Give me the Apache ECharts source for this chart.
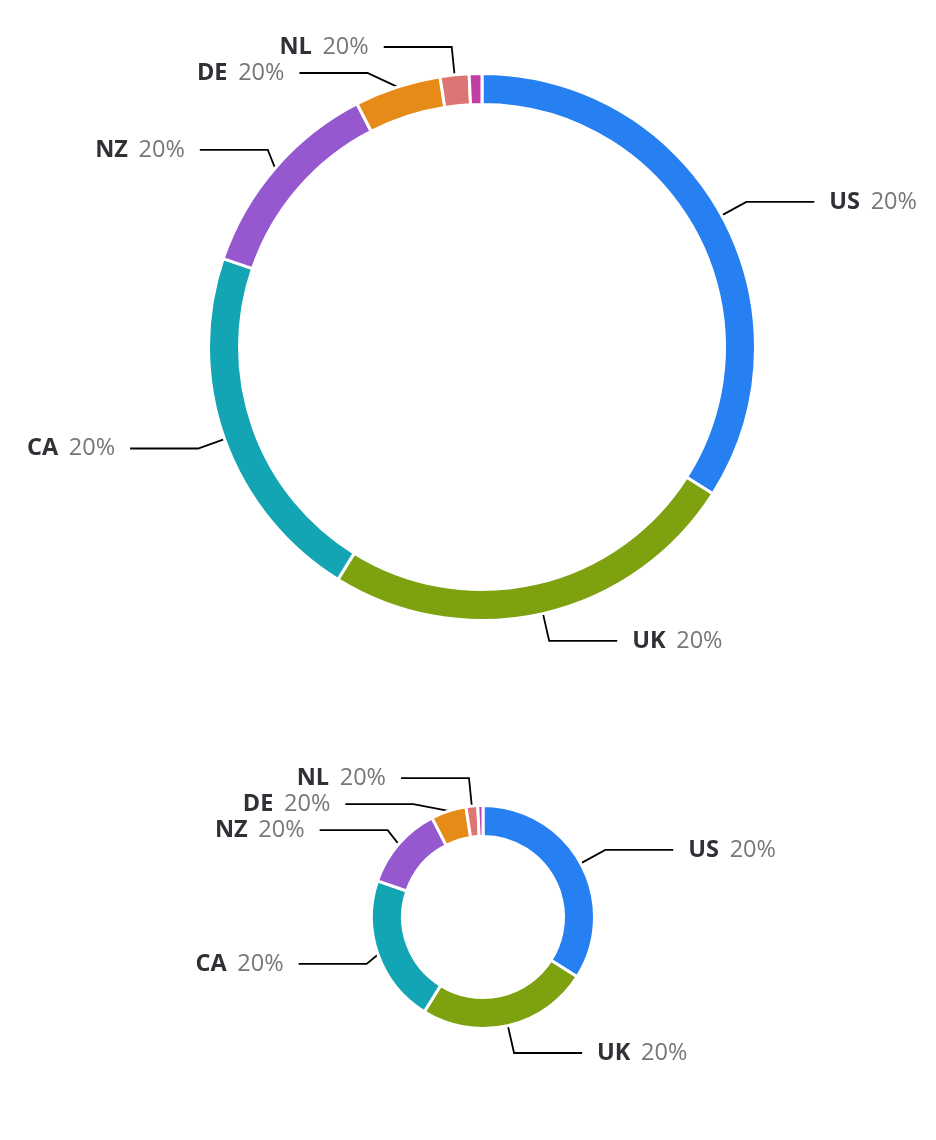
<!DOCTYPE html>
<html>
<head>
<meta charset="utf-8">
<script src="https://cdn.jsdelivr.net/npm/echarts@6/dist/echarts.min.js"></script>
<style>
  html, body { margin: 0; padding: 0; background: #fff; }
  #main { width: 936px; height: 1140px; }
</style>
</head>
<body>
<div id="main"></div>
<script>
// 数据
var countries = ['US', 'UK', 'CA', 'NZ', 'DE', 'NL', 'Other'];
var shares = [34.0, 24.8, 21.4, 12.2, 5.1, 1.7, 0.75];
var pctLabels = ['20%', '20%', '20%', '20%', '20%', '20%', '20%'];
var colors = ['#2680f2', '#7da10f', '#14a5b4', '#9558cf', '#e68b17', '#dd7575', '#c13fa5'];

var chart = echarts.init(document.getElementById('main'));

var pieData = countries.map(function (c, i) {
    return { name: c, value: shares[i] };
});

function pieSeries(center, radius) {
    return {
        type: 'pie',
        center: center,
        radius: radius,
        startAngle: 90,
        clockwise: true,
        minShowLabelAngle: 3,   // 最小的一块不显示标签
        avoidLabelOverlap: true,
        data: pieData,
        itemStyle: {
            borderColor: '#fff',
            borderWidth: 3
        },
        label: {
            show: true,
            position: 'outside',
            distanceToLabelLine: 15,
            formatter: function (p) {
                return '{n|' + p.name + '}  {p|' + pctLabels[p.dataIndex] + '}';
            },
            rich: {
                n: { fontFamily: 'Open Sans', fontSize: 23.5, fontWeight: 'bold', color: '#2f3136' },
                p: { fontFamily: 'Open Sans', fontSize: 23.5, color: '#75777b', padding: [0, 0, 0, 4] }
            }
        },
        labelLine: {
            show: true,
            length: 28,
            length2: 68,
            lineStyle: { color: '#000', width: 1.8 }
        },
        emphasis: { disabled: true }
    };
}

chart.setOption({
    color: colors,
    animation: false,
    series: [
        pieSeries([482, 347], [242.5, 273.5]),
        pieSeries([483, 917], [80.5, 111.5])
    ]
});
</script>
</body>
</html>
